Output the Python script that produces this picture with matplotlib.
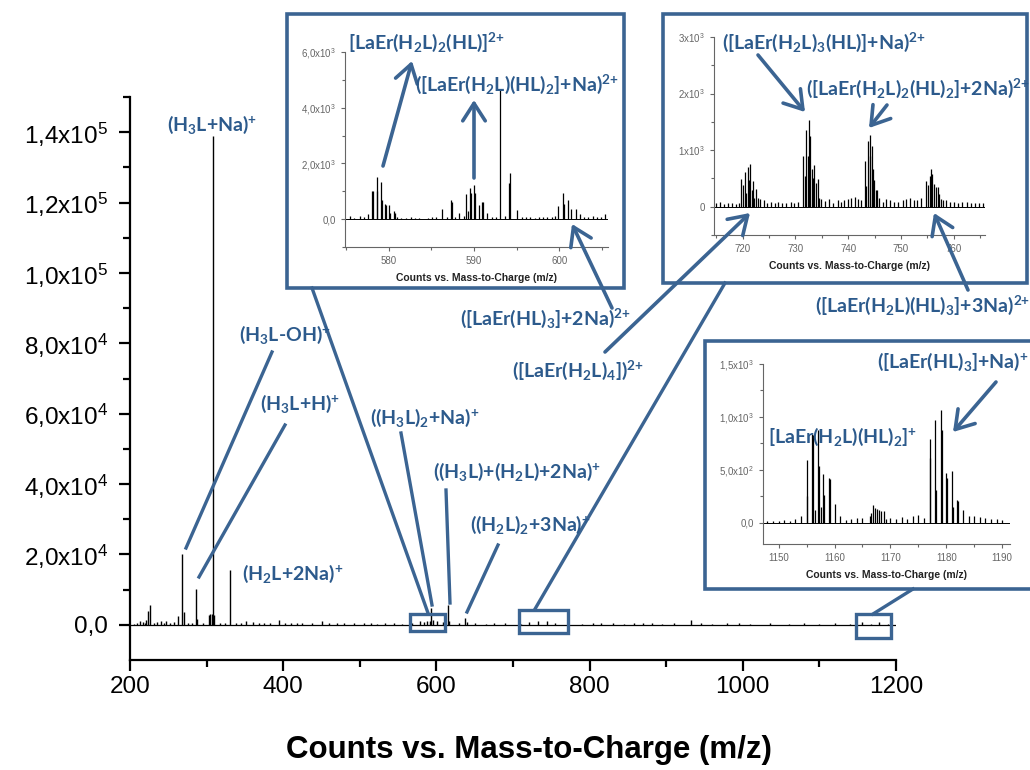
import matplotlib
matplotlib.use("Agg")
import matplotlib.pyplot as plt
from matplotlib.patches import Rectangle, FancyArrowPatch
from matplotlib.lines import Line2D

plt.rcParams['font.family'] = ['Lato', 'DejaVu Sans']
plt.rcParams['mathtext.fontset'] = 'custom'
plt.rcParams['mathtext.default'] = 'regular'

# ---- main spectrum (m/z, counts) ----
main_mz = [205, 209, 213, 217, 219, 221, 223, 226.5, 231, 235, 240, 244, 247, 252, 258,
           263, 268.5, 270, 276, 281, 286, 287.5, 295, 302.5, 305, 306.5, 308.3, 310,
           318, 324, 330.5, 338, 345, 351, 360, 368, 375, 383, 395, 402, 410, 418, 425,
           437, 450, 460, 470, 480, 492, 505, 515, 523, 533, 545, 555, 568, 578, 584,
           588, 591, 593, 595, 601, 608, 615, 617, 630, 637, 640, 650, 665, 675, 690,
           710, 721.5, 733, 744, 755, 790, 805, 815, 830, 845, 858, 870, 882, 895, 910,
           932, 945, 960, 980, 995, 1010, 1035, 1060, 1080, 1100, 1120, 1140, 1156,
           1167, 1178, 1190]
main_counts = [300, 600, 1000, 800, 500, 1300, 4000, 5700, 600, 800, 1000, 400, 1100, 500,
               700, 2500, 20000, 3500, 600, 400, 10200, 1600, 500, 2900, 3200, 3200, 139000,
               2900, 600, 400, 15700, 500, 400, 1100, 700, 500, 400, 600, 1300, 500, 400,
               600, 400, 500, 1000, 400, 500, 400, 600, 400, 500, 300, 400, 500, 300, 400,
               1200, 800, 1000, 1200, 4800, 1500, 1200, 800, 5500, 1000, 500, 2000, 700,
               400, 300, 500, 400, 300, 800, 1200, 1200, 600, 300, 400, 500, 400, 300, 500,
               400, 600, 300, 500, 1500, 400, 300, 500, 400, 300, 400, 300, 500, 300, 400,
               300, 800, 300, 900, 300]

# ---- inset 1 (575-606) ----
ins1_mz = [575.5, 576.0, 576.6, 577.1, 577.6, 578.1, 578.2, 578.6, 578.7, 579.1, 579.2,
           579.6, 579.7, 580.1, 580.2, 580.6, 580.7, 581.0, 581.5, 582.0, 582.6, 583.1,
           583.6, 584.6, 585.1, 585.6, 586.3, 586.8, 587.3, 587.4, 587.8, 588.3, 588.8,
           589.05, 589.25, 589.55, 589.65, 590.05, 590.15, 590.55, 591.0, 591.1, 591.55,
           592.1, 592.6, 593.1, 593.6, 594.05, 594.2, 595.1, 595.6, 596.1, 596.6, 597.1,
           597.6, 598.1, 598.6, 599.1, 599.5, 599.9, 600.4, 600.5, 601.0, 601.4, 601.9,
           602.4, 602.9, 603.4, 603.9, 604.4, 604.9, 605.4]
ins1_counts = [120, 50, 100, 60, 180, 1020, 1000, 1500, 1000, 1340, 700,
               540, 520, 520, 220, 280, 220, 60, 50, 40, 60, 40,
               50, 50, 70, 60, 370, 80, 670, 610, 90, 220, 100,
               920, 300, 1100, 940, 1230, 940, 490, 600, 620, 220,
               80, 60, 4670, 120, 1300, 1640, 340, 90, 70, 60, 50,
               60, 70, 80, 90, 110, 480, 940, 540, 700, 370, 370,
               180, 80, 90, 100, 70, 80, 190]

# ---- inset 2 (715-766) ----
ins2_mz = [715.0, 715.7, 716.4, 717.2, 718.0, 718.8, 719.3, 719.75, 720.0, 720.4, 720.75,
           721.0, 721.25, 721.5, 721.75, 722.0, 722.25, 722.6, 723.0, 723.25, 724.0, 724.6,
           725.3, 726.1, 726.8, 727.5, 728.3, 729.1, 729.8, 730.5, 731.5, 731.75, 732.1,
           732.3, 732.6, 732.8, 733.1, 733.4, 733.6, 733.9, 734.2, 734.5, 734.9, 735.6,
           736.4, 737.2, 738.0, 738.6, 739.3, 740.0, 740.6, 741.2, 741.8, 742.4, 743.2,
           743.45, 743.8, 744.05, 744.2, 744.45, 744.7, 744.95, 745.3, 745.5, 745.8, 746.6,
           747.1, 748.0, 748.7, 749.5, 750.3, 751.0, 751.7, 752.4, 753.1, 753.8, 754.8,
           755.05, 755.4, 755.7, 755.95, 756.3, 756.6, 757.0, 757.25, 757.5, 757.9, 758.5,
           759.2, 760.0, 760.8, 761.6, 762.4, 763.2, 764.0, 764.8, 765.5]
ins2_counts = [60, 80, 50, 70, 60, 50, 70, 490, 380, 610, 250,
               700, 480, 760, 300, 460, 160, 320, 160, 140, 120, 70,
               90, 60, 80, 70, 60, 90, 70, 80, 890, 540, 1350,
               890, 1530, 1250, 670, 510, 730, 420, 490, 160, 140, 100,
               140, 70, 110, 80, 120, 140, 160, 180, 130, 110, 800,
               360, 1160, 890, 1260, 1070, 670, 480, 300, 300, 160, 90,
               130, 110, 90, 80, 120, 140, 160, 120, 110, 150, 450,
               390, 550, 660, 570, 410, 340, 350, 220, 140, 120, 110,
               90, 80, 70, 90, 80, 70, 60, 70, 60]

# ---- inset 3 (1147-1191) ----
ins3_mz = [1148, 1149, 1150, 1151, 1152, 1153, 1154, 1155.0, 1155.15, 1156.0, 1156.15,
           1156.5, 1157.0, 1157.15, 1157.5, 1158.0, 1158.15, 1159.0, 1159.15, 1160.0,
           1161.0, 1162, 1163, 1164, 1165, 1166.3, 1166.6, 1166.9, 1167.2, 1167.6, 1168.0,
           1168.4, 1168.8, 1169.3, 1170, 1171, 1172, 1173, 1174, 1175, 1176, 1177.0,
           1177.15, 1178.0, 1178.15, 1179.0, 1179.15, 1180.0, 1180.15, 1181.0, 1181.15,
           1182.0, 1182.15, 1183, 1184, 1185, 1186, 1187, 1188, 1189, 1190]
ins3_counts = [20, 15, 20, 25, 20, 40, 60, 590, 250, 840, 830,
               120, 880, 540, 150, 460, 260, 420, 415, 175,
               65, 30, 35, 45, 50, 60, 90, 170, 140, 130, 120,
               110, 110, 40, 50, 40, 55, 40, 60, 70, 45, 790,
               610, 970, 310, 1070, 880, 470, 420, 490, 150,
               220, 210, 120, 65, 60, 55, 50, 40, 35, 30]

main_yticks = [0, 2e4, 4e4, 6e4, 8e4, 1e5, 1.2e5, 1.4e5]
main_ylabels = ['0,0', '2,0x10$^4$', '4,0x10$^4$', '6,0x10$^4$', '8,0x10$^4$',
                '1,0x10$^5$', '1,2x10$^5$', '1,4x10$^5$']
main_xticks = [200, 400, 600, 800, 1000, 1200]

ins1_yticks = [0, 2000, 4000, 6000]
ins1_ylabels = ['0,0', '2,0x10$^3$', '4,0x10$^3$', '6,0x10$^3$']
ins1_xticks = [580, 590, 600]
ins2_yticks = [0, 1000, 2000, 3000]
ins2_ylabels = ['0', '1x10$^3$', '2x10$^3$', '3x10$^3$']
ins2_xticks = [720, 730, 740, 750, 760]
ins3_yticks = [0, 500, 1000, 1500]
ins3_ylabels = ['0,0', '5,0x10$^2$', '1,0x10$^3$', '1,5x10$^3$']
ins3_xticks = [1150, 1160, 1170, 1180, 1190]

xlabel = 'Counts vs. Mass-to-Charge (m/z)'
BLUE = '#2C5A8C'
FRAME = '#3B6492'
W, H = 1030, 770


def rect(x0, y0, x1, y1):
    return [x0 / W, 1 - y1 / H, (x1 - x0) / W, (y1 - y0) / H]


def fp(x, y):
    return (x / W, 1 - y / H)


fig = plt.figure(figsize=(10.3, 7.7), dpi=100)

ax = fig.add_axes(rect(130, 97, 896, 660))
ax.vlines(main_mz, 0, main_counts, color='black', lw=1.0)
ax.axhline(0, color='black', lw=0.9)
ax.set_xlim(200, 1200)
ax.set_ylim(-1e4, 1.5e5)
ax.set_xticks(main_xticks)
ax.set_xticks(range(300, 1200, 200), minor=True)
ax.set_yticks(main_yticks)
ax.set_yticks(range(10000, 150001, 20000), minor=True)
ax.set_yticklabels(main_ylabels)
for s in ['top', 'right']:
    ax.spines[s].set_visible(False)
for s in ['left', 'bottom']:
    ax.spines[s].set_linewidth(1.6)
ax.tick_params(which='major', direction='out', length=8, width=1.6, labelsize=17.5)
ax.tick_params(axis='y', which='major', pad=8)
ax.tick_params(which='minor', direction='out', length=5, width=1.6)
for lab in ax.get_xticklabels() + ax.get_yticklabels():
    lab.set_family('Liberation Sans')
ax.set_xlabel(xlabel, family='Liberation Sans', fontsize=22.5, fontweight='bold')
ax.xaxis.label.set_va('center')
ax.xaxis.set_label_coords(0.521, -0.16)


def inset(frame, pos, mz, counts, xlim, ylim, xticks, xminor, yticks, ylabels, yminor):
    fig.add_artist(Rectangle(fp(frame[0], frame[3]), (frame[2] - frame[0]) / W,
                             (frame[3] - frame[1]) / H, transform=fig.transFigure,
                             facecolor='white', edgecolor=FRAME, lw=2.6, zorder=1.5))
    a = fig.add_axes(rect(*pos))
    a.set_zorder(2)
    a.patch.set_alpha(0)
    a.vlines(mz, 0, counts, color='black', lw=0.9)
    a.axhline(0, color='black', lw=0.7)
    a.set_xlim(*xlim)
    a.set_ylim(*ylim)
    a.set_xticks(xticks)
    a.set_xticks(xminor, minor=True)
    a.set_yticks(yticks)
    a.set_yticks(yminor, minor=True)
    a.set_yticklabels(ylabels)
    for s in ['top', 'right']:
        a.spines[s].set_visible(False)
    for s in ['left', 'bottom']:
        a.spines[s].set_linewidth(0.8)
        a.spines[s].set_color('#666666')
    a.tick_params(which='major', direction='out', length=3, width=0.8, color='#666666',
                  labelsize=7, labelcolor='#666666')
    a.tick_params(which='minor', direction='out', length=2, width=0.8, color='#666666')
    for lab in a.get_xticklabels() + a.get_yticklabels():
        lab.set_family('Liberation Sans')
    a.set_xlabel(xlabel, family='Liberation Sans', fontsize=7.5, fontweight='bold',
                 color='#222222', labelpad=5)
    return a


inset((287, 14, 624, 288), (345, 52, 608, 247), ins1_mz, ins1_counts, (574.9, 605.7),
      (-1000, 6000), ins1_xticks, [575, 585, 595, 605], ins1_yticks, ins1_ylabels,
      [-1000, 1000, 3000, 5000])
inset((663, 14, 1027, 283), (714, 37, 985, 235), ins2_mz, ins2_counts, (714.6, 765.9),
      (-500, 3000), ins2_xticks, [715, 725, 735, 745, 755, 765], ins2_yticks, ins2_ylabels,
      [-500, 500, 1500, 2500])
inset((705, 341, 1032, 589), (763, 364, 1010, 544), ins3_mz, ins3_counts, (1147.2, 1191.4),
      (-200, 1500), ins3_xticks, [1155, 1165, 1175, 1185], ins3_yticks, ins3_ylabels,
      [250, 750, 1250])

# zoom boxes on the main spectrum
for b in [(410, 614, 445, 631), (519, 610, 568, 633), (856, 614, 891, 638)]:
    fig.add_artist(Rectangle(fp(b[0], b[3]), (b[2] - b[0]) / W, (b[3] - b[1]) / H,
                             transform=fig.transFigure, facecolor='none',
                             edgecolor=FRAME, lw=2.4, zorder=3))

# plain leader lines
for p, q in [((272, 352), (186, 548)), ((285, 425), (199, 577)),
             ((312, 288), (428, 613)), ((401, 433), (432, 605)),
             ((446, 490), (450, 603)), ((498, 545), (467, 612)),
             ((725, 283), (535, 609)), ((873, 614), (913, 589))]:
    fig.add_artist(Line2D([fp(*p)[0], fp(*q)[0]], [fp(*p)[1], fp(*q)[1]],
                          transform=fig.transFigure, color=FRAME, lw=2.4, zorder=3))

# arrows
for p, q in [((383, 166), (412, 61)), ((474, 178), (474, 100)),
             ((612, 308), (572, 224)), ((758, 55), (805, 112)),
             ((887, 105), (869, 128)), ((605, 352), (750, 213)),
             ((968, 290), (934, 213)), ((996, 382), (953, 432))]:
    fig.add_artist(FancyArrowPatch(fp(*p), fp(*q), transform=fig.transFigure,
                                   arrowstyle='->,head_length=0.7,head_width=0.45',
                                   mutation_scale=18, color=FRAME, lw=2.6,
                                   shrinkA=0, shrinkB=0, zorder=4))

labels = [
    ('(H$_3$L+Na$)^{+}$', 212, 125, 'center'),
    ('(H$_3$L-OH$)^{+}$', 285, 335, 'center'),
    ('(H$_3$L+H$)^{+}$', 300, 404, 'center'),
    ('(H$_2$L+2Na$)^{+}$', 293, 574, 'center'),
    ('((H$_3$L)$_2$+Na$)^{+}$', 425, 418, 'center'),
    ('((H$_3$L)+(H$_2$L)+2Na$)^{+}$', 517, 472, 'center'),
    ('((H$_2$L)$_2$+3Na$)^{+}$', 530, 525, 'center'),
    ('([LaEr(HL)$_3$]+2Na$)^{2{+}}$', 545, 318, 'center'),
    ('([LaEr(H$_2$L)$_4$]$)^{2{+}}$', 578, 370, 'center'),
    ('([LaEr(H$_2$L)(HL)$_3$]+3Na$)^{2{+}}$', 815, 305, 'left'),
    ('[LaEr(H$_2$L)$_2$(HL)$]^{2{+}}$', 348, 42, 'left'),
    ('([LaEr(H$_2$L)(HL)$_2$]+Na$)^{2{+}}$', 415, 84, 'left'),
    ('([LaEr(H$_2$L)$_3$(HL)]+Na$)^{2{+}}$', 722, 42, 'left'),
    ('([LaEr(H$_2$L)$_2$(HL)$_2$]+2Na$)^{2{+}}$', 806, 88, 'left'),
    ('[LaEr(H$_2$L)(HL)$_2$$]^{+}$', 768, 437, 'left'),
    ('([LaEr(HL)$_3$]+Na$)^{+}$', 877, 362, 'left'),
]
for txt, x, y, ha in labels:
    fig.text(*fp(x, y), txt, ha=ha, va='center', fontsize=14, fontweight='bold',
             color=BLUE, zorder=5)

fig.savefig('out.png', dpi=100)
